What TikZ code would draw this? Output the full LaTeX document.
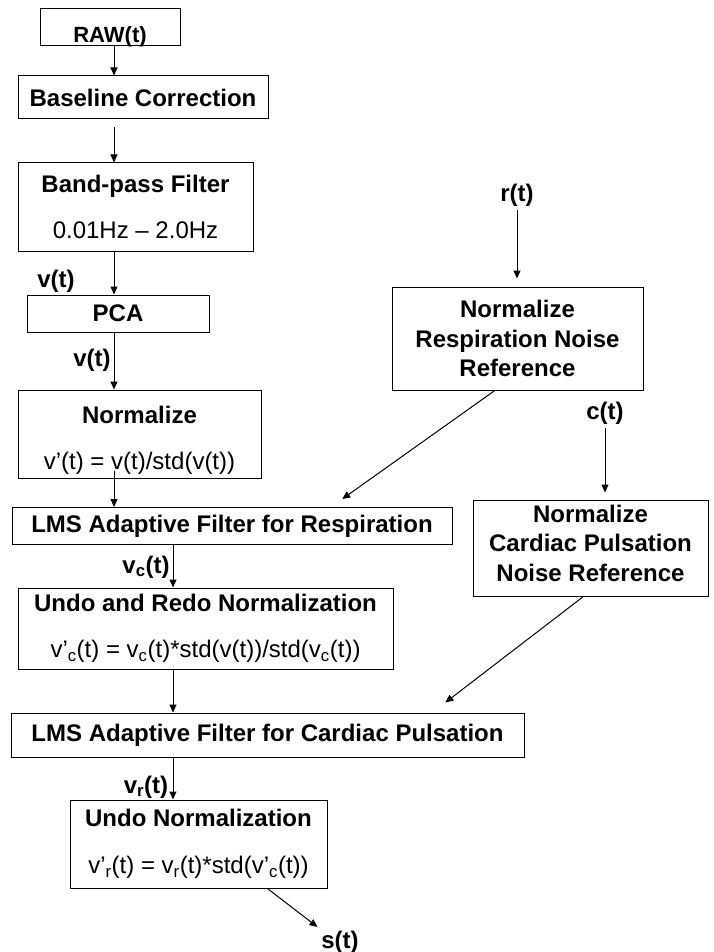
\documentclass[tikz,border=0pt]{standalone}
\usepackage{fontspec}
\setmainfont{Liberation Sans}
\usepackage{tikz}
\usetikzlibrary{arrows.meta,calc}
\tikzset{
	box/.style={draw, line width=1pt, inner sep=0pt, align=center, font=\fontsize{24}{29.5}\selectfont\bfseries},
	sig/.style={font=\fontsize{24}{29}\selectfont\bfseries}
}
\begin{document}
\begin{tikzpicture}[x=1pt, y=-1pt, line width=1pt, >={Triangle[length=8pt,width=7pt]}]
		\useasboundingbox (0,0) rectangle (714,952);
		\coordinate (c1) at (114,0);
		\coordinate (c2) at (173,0);
		\node[box, minimum width=140pt, minimum height=37pt, text height=31pt, text depth=0pt, font=\fontsize{22}{26}\selectfont\bfseries] (raw) at (110,27.5) {RAW(t)};
		\node[box, minimum width=250pt, minimum height=43pt] (base) at (143,97.5) {Baseline Correction};
		\node[box, minimum width=235pt, minimum height=88pt] (band) at (135.5,207) {Band-pass Filter\\[17pt]\mdseries 0.01Hz – 2.0Hz};
		\node[box, minimum width=182pt, minimum height=37pt] (pca) at (118,313.5) {PCA};
		\node[box, minimum width=243pt, minimum height=88pt] (norm) at (139.5,434) {\rule{0pt}{29.5pt}Normalize\\[17pt]\mdseries v’(t) = v(t)/std(v(t))};
		\node[box, minimum width=440pt, minimum height=37pt] (lmsr) at (232,526) {LMS Adaptive Filter for Respiration};
		\node[box, minimum width=375pt, minimum height=81pt] (undo1) at (205.5,628.5) {Undo and Redo Normalization\\[17pt]\mdseries v’\textsubscript{c}(t) = v\textsubscript{c}(t)*std(v(t))/std(v\textsubscript{c}(t))};
		\node[box, minimum width=513pt, minimum height=44pt] (lmsc) at (267.5,735) {LMS Adaptive Filter for Cardiac Pulsation};
		\node[box, minimum width=257pt, minimum height=88pt] (undo2) at (198.5,844) {Undo Normalization\\[17pt]\mdseries v’\textsubscript{r}(t) = v\textsubscript{r}(t)*std(v’\textsubscript{c}(t))};
		\node[box, minimum width=251pt, minimum height=103pt] (nresp) at (517.5,338.5) {Normalize\\Respiration Noise\\Reference};
		\node[box, minimum width=235pt, minimum height=96pt] (ncard) at (590.5,548) {Normalize\\Cardiac Pulsation\\Noise Reference\rule[-10pt]{0pt}{10pt}};
		\node[sig] (v1) at (56,281) {v(t)};
		\node[sig] (v2) at (92,360) {v(t)};
		\node[sig] (vc) at (146,567) {v\textsubscript{c}(t)};
		\node[sig] (vr) at (146,787) {v\textsubscript{r}(t)};
		\node[sig] (rt) at (517,195) {r(t)};
		\node[sig] (ct) at (605,413) {c(t)};
		\node[sig] (st) at (340,942) {s(t)};
		\draw[->] (raw.south -| c1) -- (base.north -| c1);
		\draw[->] ($(base.south -| c1)+(0,8)$) -- (band.north -| c1);
		\draw[->] (band.south -| c1) -- (pca.north -| c1);
		\draw[->] (pca.south -| c1) -- (norm.north -| c1);
		\draw[->] ($(norm.south -| c1)+(0,-8)$) -- (lmsr.north -| c1);
		\draw[->] (lmsr.south -| c2) -- (undo1.north -| c2);
		\draw[->] (undo1.south -| c2) -- (lmsc.north -| c2);
		\draw[->] (lmsc.south -| c2) -- (undo2.north -| c2);
		\draw[->] (rt) -- ($(nresp.north -| rt)+(0,-8)$);
		\draw[->] (ct) -- ($(ncard.north -| ct)+(0,-7)$);
		\draw[->] ($(nresp.south west)!0.41!(nresp.south east)$) -- ($(lmsr.north west)!0.75!(lmsr.north east)+(0,-8)$);
		\draw[->] ($(ncard.south west)!0.47!(ncard.south east)$) -- ($(lmsc.north west)!0.846!(lmsc.north east)+(0,-10)$);
		\draw[->] ($(undo2.south west)!0.767!(undo2.south east)$) -- (st.north west);
\end{tikzpicture}
\end{document}
